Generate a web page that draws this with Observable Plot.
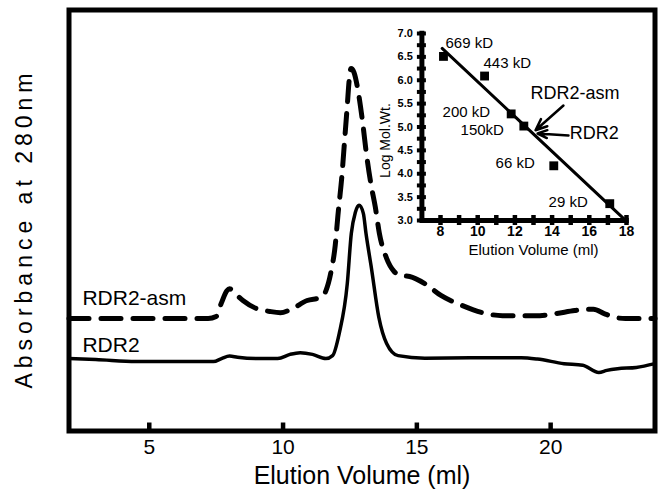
<!DOCTYPE html>
<html><head><meta charset="utf-8">
<script src="https://cdn.jsdelivr.net/npm/d3@7"></script>
<script src="https://cdn.jsdelivr.net/npm/@observablehq/plot@0.6"></script>
<style>
body{margin:0;background:#fff}
#chart{position:relative;width:659px;height:491px}
#inset{position:absolute;left:360px;top:20px}
</style>
</head><body><div id="chart"><div id="main"></div><div id="inset"></div></div>
<script>
// ---- main chromatogram (elution volume ml, absorbance arbitrary units) ----
const elutionRDR2 = [2.0,3.0,4.5,6.0,7.4,7.7,8.0,8.3,9.0,9.8,10.26,10.64,11.1,11.6,11.85,12.1,12.4,12.55,12.7,12.84,13.0,13.1,13.3,13.58,13.87,14.3,15.3,17.0,18.9,19.5,20.5,21.2,21.8,22.1,22.5,23.2,23.9];
const absRDR2 =     [17.2,17.0,16.5,16.5,16.5,17.2,17.8,17.5,17.2,17.2,18.2,18.6,18.2,17.2,17.9,23.2,35.0,46.9,51.9,53.6,51.7,46.9,38.8,27.0,20.8,17.9,17.3,17.4,17.4,17.1,16.0,15.6,13.9,14.4,14.8,15.1,16.0];
const elutionAsm = [2.0,4.0,6.0,7.2,7.5,7.7,7.9,8.0,8.2,8.5,9.0,9.5,9.9,10.3,10.9,11.4,11.6,11.8,11.95,12.05,12.2,12.3,12.4,12.47,12.54,12.65,12.8,12.98,13.1,13.28,13.45,13.6,13.87,14.15,14.44,14.73,15.3,15.9,16.7,17.45,18.2,19.6,20.2,20.9,21.3,21.6,22.0,22.4,22.8,23.9];
const absAsm =     [26.7,26.7,26.7,26.7,27.2,30.5,33.3,33.8,32.7,31.0,29.1,28.4,28.1,28.9,31.0,31.7,33.3,38.1,44.1,51.2,60.7,69.0,77.3,83.3,86.1,85.2,80.9,73.0,66.6,58.8,53.1,46.9,41.0,37.9,36.9,36.7,35.0,32.2,29.8,28.1,27.4,27.4,27.9,28.6,28.9,28.9,27.9,27.0,26.7,26.7];
const xTicks = [5,10,15,20];
const seriesNames = ["RDR2-asm","RDR2"];
const seriesLabelX = [2.5,2.5];
const seriesLabelY = [31.5,20.3];

// ---- inset: calibration ----
const standardLabels = ["669 kD","443 kD","200 kD","150kD","66 kD","29 kD"];
const standardVolume = [8.16,10.37,11.8,12.48,14.09,17.1];
const standardLogMW  = [6.51,6.09,5.28,5.02,4.17,3.36];
const standardLabelX = [8.27,10.31,8.11,9.08,10.96,13.81];
const standardLabelY = [6.79,6.36,5.31,4.93,4.22,3.39];
const fitVolume = [8.09,17.85];
const fitLogMW  = [6.68,3.04];
const arrowNames = ["RDR2-asm","RDR2"];
const arrowTailX = [14.61,14.88];
const arrowTailY = [5.46,4.82];
const arrowTipX  = [13.11,13.22];
const arrowTipY  = [4.93,4.86];
const arrowLabelX = [12.84,14.95];
const arrowLabelY = [5.72,4.86];
const insetXTicks = [8,10,12,14,16,18];
const insetYTicks = [3.0,3.5,4.0,4.5,5.0,5.5,6.0,6.5,7.0];
const insetYMinor = d3.range(3,7.001,0.25);
const insetXMinor = d3.range(8,18.001,1);

const font = "'Liberation Sans', Arial, Helvetica, sans-serif";
const rdr2 = elutionRDR2.map((x,i)=>({x, y: absRDR2[i]}));
const asm = elutionAsm.map((x,i)=>({x, y: absAsm[i]}));
const seriesLabels = seriesNames.map((n,i)=>({n, x: seriesLabelX[i], y: seriesLabelY[i]}));

const main = Plot.plot({
  width: 659, height: 491,
  marginLeft: 68.5, marginRight: 4.5, marginTop: 9.5, marginBottom: 60.5,
  style: {fontFamily: font, background: "white", color: "black"},
  x: {domain: [2, 23.9]},
  y: {domain: [0, 100], axis: null},
  marks: [
    Plot.axisX({ticks: xTicks, tickSize: 8, strokeWidth: 4.5, dy: -8, tickFormat: () => "", label: null}),
    Plot.axisX({ticks: xTicks, tickSize: 0, tickPadding: 8, fontSize: 21, label: null}),
    Plot.line(asm, {x: "x", y: "y", curve: "monotone-x", stroke: "black", strokeWidth: 5, strokeDasharray: "20,12"}),
    Plot.line(rdr2, {x: "x", y: "y", curve: "monotone-x", stroke: "black", strokeWidth: 3.5}),
    Plot.text(seriesLabels, {x: "x", y: "y", text: "n", textAnchor: "start", fontSize: 21, fill: "black"}),
    Plot.text(["Elution Volume (ml)"], {frameAnchor: "bottom", lineAnchor: "middle", textAnchor: "middle", dy: 44.5, fontSize: 25, fill: "black"}),
    Plot.text(["Absorbance at 280nm"], {frameAnchor: "left", textAnchor: "middle", lineAnchor: "middle", rotate: -90, dx: -44, dy: 8, fontSize: 23, fill: "black"}),
    Plot.frame({stroke: "black", strokeWidth: 5})
  ]
});
document.getElementById("main").append(main);
main.querySelectorAll("text").forEach(t => {
  if (t.textContent === "Absorbance at 280nm") t.setAttribute("letter-spacing", "5");
});

const standards = standardLabels.map((l,i)=>({l, x: standardVolume[i], y: standardLogMW[i], lx: standardLabelX[i], ly: standardLabelY[i]}));
const fit = fitVolume.map((x,i)=>({x, y: fitLogMW[i]}));
const arrows = arrowNames.map((n,i)=>({n, x1: arrowTailX[i], y1: arrowTailY[i], x2: arrowTipX[i], y2: arrowTipY[i], lx: arrowLabelX[i], ly: arrowLabelY[i]}));

const inset = Plot.plot({
  width: 290, height: 250,
  marginLeft: 61.4, marginRight: 24, marginTop: 13, marginBottom: 50,
  style: {fontFamily: font, background: "transparent", color: "black", overflow: "visible"},
  x: {domain: [7, 18]},
  y: {domain: [3, 7]},
  marks: [
    Plot.axisY({ticks: insetYMinor, tickSize: 9, strokeWidth: 4, dx: 4.5, tickFormat: () => "", label: null}),
    Plot.axisY({ticks: insetYTicks, tickSize: 0, tickPadding: 9, fontSize: 11, fontWeight: "bold", tickFormat: d3.format(".1f"), label: null}),
    Plot.axisX({ticks: insetXMinor, tickSize: 10, strokeWidth: 4.5, dy: -5, tickFormat: () => "", label: null}),
    Plot.axisX({ticks: insetXTicks, tickSize: 0, tickPadding: 6, fontSize: 14, fontWeight: "bold", label: null}),
    Plot.ruleX([7], {y1: 3, y2: 7.05, stroke: "black", strokeWidth: 5}),
    Plot.ruleY([3], {x1: 6.9, x2: 18.15, stroke: "black", strokeWidth: 5}),
    Plot.line(fit, {x: "x", y: "y", stroke: "black", strokeWidth: 3}),
    Plot.dot(standards, {x: "x", y: "y", symbol: "square", r: 5, fill: "black"}),
    Plot.text(standards, {x: "lx", y: "ly", text: "l", textAnchor: "start", fontSize: 15, fill: "black"}),
    Plot.arrow(arrows, {x1: "x1", y1: "y1", x2: "x2", y2: "y2", stroke: "black", strokeWidth: 2.5, headLength: 12, headAngle: 45}),
    Plot.text(arrows, {x: "lx", y: "ly", text: "n", textAnchor: "start", fontSize: 18, fill: "black"}),
    Plot.text(["Elution Volume (ml)"], {x: 13, frameAnchor: "bottom", lineAnchor: "middle", textAnchor: "middle", dy: 30, fontSize: 15, fill: "black"}),
    Plot.text(["Log Mol.Wt."], {y: 4.71, frameAnchor: "left", textAnchor: "middle", lineAnchor: "middle", rotate: -90, dx: -36, fontSize: 14, fill: "black"})
  ]
});
document.getElementById("inset").append(inset);
</script>
</body></html>
